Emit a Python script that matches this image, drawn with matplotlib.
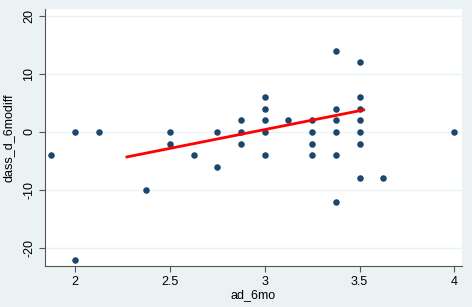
import matplotlib
matplotlib.use("Agg")
import matplotlib.pyplot as plt

plt.rcParams['font.family'] = ['Liberation Sans', 'DejaVu Sans']

# scatter data: ad_6mo vs dass_d_6modiff
ad_6mo = [1.875, 2, 2, 2.125, 2.375, 2.5, 2.5, 2.625, 2.75, 2.75,
          2.875, 2.875, 2.875,
          3, 3, 3, 3, 3,
          3.125,
          3.25, 3.25, 3.25, 3.25,
          3.375, 3.375, 3.375, 3.375, 3.375, 3.375,
          3.5, 3.5, 3.5, 3.5, 3.5, 3.5, 3.5,
          3.625, 4]
dass_diff = [-4, 0, -22, 0, -10, 0, -2, -4, 0, -6,
             2, 0, -2,
             6, 4, 2, 0, -4,
             2,
             2, 0, -2, -4,
             14, 4, 2, 0, -4, -12,
             12, 6, 4, 2, 0, -2, -8,
             -8, 0]

# fitted line end points
fit_x = [2.274, 3.521]
fit_y = [-4.3, 3.8]

x_ticks = [2, 2.5, 3, 3.5, 4]
x_ticklabels = ["2", "2.5", "3", "3.5", "4"]
y_ticks = [-20, -10, 0, 10, 20]

bg = "#eaf2f3"
navy = "#1a476f"

fig = plt.figure(figsize=(4.72, 3.07), dpi=100, facecolor=bg)
ax = fig.add_axes([0.0953, 0.1336, 0.8837, 0.8371])
ax.set_facecolor("white")

for yt in y_ticks:
    ax.axhline(yt, color=bg, linewidth=1.0, zorder=0)

ax.scatter(ad_6mo, dass_diff, s=22, color=navy, zorder=3, linewidths=0)
ax.plot(fit_x, fit_y, color="#ff0000", linewidth=2.0, zorder=4)

ax.set_xlim(1.842, 4.04)
ax.set_ylim(-23.1, 21.2)
ax.set_xticks(x_ticks)
ax.set_xticklabels(x_ticklabels)
ax.set_yticks(y_ticks)
ax.set_yticklabels([str(v) for v in y_ticks], rotation=90, va="center")

for s in ["top", "right"]:
    ax.spines[s].set_visible(False)
for s in ["left", "bottom"]:
    ax.spines[s].set_color("#555555")
    ax.spines[s].set_linewidth(0.8)

ax.tick_params(axis="both", direction="out", length=4, width=0.8,
               color="#555555", labelsize=9, pad=3)
ax.set_xlabel("ad_6mo", fontsize=9, labelpad=1)
ax.set_ylabel("dass_d_6modiff", fontsize=9, labelpad=6)

fig.savefig("out.png", dpi=100, facecolor=bg)
